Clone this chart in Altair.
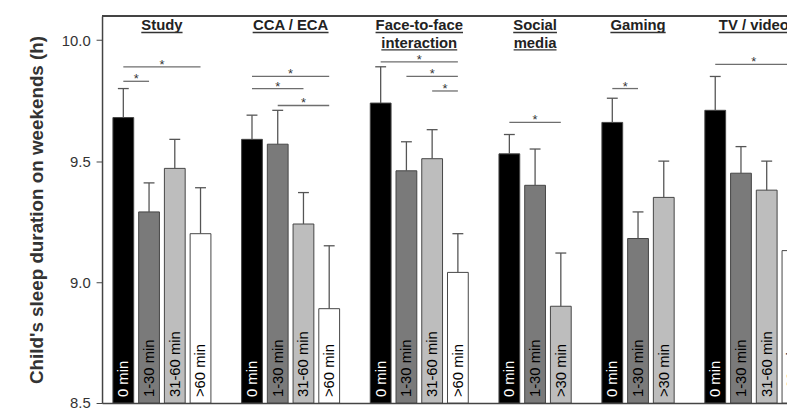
import altair as alt
import pandas as pd

# ---------------- data ----------------
title_lines = [["Study"], ["CCA / ECA"], ["Face-to-face", "interaction"],
               ["Social", "media"], ["Gaming"], ["TV / video"]]
levels = [
    ["0 min", "1-30 min", "31-60 min", ">60 min"],
    ["0 min", "1-30 min", "31-60 min", ">60 min"],
    ["0 min", "1-30 min", "31-60 min", ">60 min"],
    ["0 min", "1-30 min", ">30 min"],
    ["0 min", "1-30 min", ">30 min"],
    ["0 min", "1-30 min", "31-60 min", ">60 min"],
]
means = [
    [9.68, 9.29, 9.47, 9.20],
    [9.59, 9.57, 9.24, 8.89],
    [9.74, 9.46, 9.51, 9.04],
    [9.53, 9.40, 8.90],
    [9.66, 9.18, 9.35],
    [9.71, 9.45, 9.38, 9.13],
]
upper = [
    [9.80, 9.41, 9.59, 9.39],
    [9.69, 9.71, 9.37, 9.15],
    [9.89, 9.58, 9.63, 9.20],
    [9.61, 9.55, 9.12],
    [9.76, 9.29, 9.50],
    [9.85, 9.56, 9.50, 9.30],
]
# significance brackets: (from bar, to bar) within a group and bracket height (h)
sig_pairs = [
    [(0, 1), (0, 3)],
    [(0, 3), (0, 2), (1, 3)],
    [(0, 3), (1, 3), (2, 3)],
    [(0, 2)],
    [(0, 1)],
    [(0, 3)],
]
sig_heights = [
    [9.83, 9.89],
    [9.85, 9.80, 9.73],
    [9.91, 9.85, 9.79],
    [9.66],
    [9.80],
    [9.90],
]

# ---------------- layout / style ----------------
W, H = 692, 391
Y_DOM = [8.5, 10.1]
PX_PER_SLOT = 26.0
X_DOM = [-11 / PX_PER_SLOT, (W - 11) / PX_PER_SLOT]
BAR_W = 21 / PX_PER_SLOT
CAP = 5.5 / PX_PER_SLOT
PX_PER_H = H / (Y_DOM[1] - Y_DOM[0])
FONT = "Liberation Sans"

bold_w = {" ": 278, "/": 278, "-": 333, "a": 556, "c": 556, "d": 611, "e": 556,
          "f": 333, "g": 611, "i": 278, "l": 278, "m": 889, "n": 611, "o": 611,
          "r": 389, "s": 556, "t": 333, "u": 611, "v": 556, "y": 556, "A": 722,
          "C": 722, "E": 667, "F": 611, "G": 778, "S": 667, "T": 611, "V": 667}


def text_px(s, size=15):
    return sum(bold_w.get(ch, 556) for ch in s) / 1000 * size


fills = {"0 min": "#000000", "1-30 min": "#7a7a7a", "31-60 min": "#bdbdbd",
         ">60 min": "#ffffff", ">30 min": "#bdbdbd"}

bar_rows, sig_rows, title_rows = [], [], []
start = 0
for g, lv in enumerate(levels):
    for i, name in enumerate(lv):
        bar_rows.append({"group": g, "level": name, "slot": start + i,
                         "mean": means[g][i], "upper": upper[g][i]})
    for (a, b), h in zip(sig_pairs[g], sig_heights[g]):
        sig_rows.append({"a": start + a, "b": start + b, "h": h})
    gc = (start + start + len(lv) - 1 + BAR_W) / 2
    for k, line in enumerate(title_lines[g]):
        title_rows.append({"line": line, "gc": gc, "k": k,
                           "half": text_px(line) / 2 / PX_PER_SLOT})
    start += len(lv) + 1

bars = pd.DataFrame(bar_rows)
sigs = pd.DataFrame(sig_rows)
titles = pd.DataFrame(title_rows)

xs = alt.Scale(domain=X_DOM, nice=False, zero=False)
ys = alt.Scale(domain=Y_DOM, nice=False, zero=False)

base_bars = alt.Chart(bars).transform_calculate(
    x0="datum.slot", x1=f"datum.slot + {BAR_W}", xc=f"datum.slot + {BAR_W / 2}",
    c0=f"datum.slot + {BAR_W / 2 - CAP}", c1=f"datum.slot + {BAR_W / 2 + CAP}",
    tc="datum.level == '0 min' ? 'white' : 'black'")

bar_layer = base_bars.mark_bar(stroke="#454545", strokeWidth=1, clip=True).encode(
    x=alt.X("x0:Q", scale=xs,
            axis=alt.Axis(labels=False, ticks=False, title=None, grid=False,
                          domainColor="#444", domainWidth=1.5)),
    x2="x1:Q",
    y=alt.Y("mean:Q", scale=ys,
            axis=alt.Axis(values=[8.5, 9.0, 9.5, 10.0], format=".1f", grid=False,
                          labelFontSize=15, labelColor="#333", labelPadding=6,
                          tickSize=6, tickColor="#444", domainColor="#444",
                          domainWidth=1.5,
                          title="Child's sleep duration on weekends (h)",
                          titleFontSize=19, titleFontWeight="bold",
                          titleColor="#333", titlePadding=15)),
    y2=alt.datum(8.5),
    color=alt.Color("level:N", scale=alt.Scale(domain=list(fills.keys()),
                                               range=list(fills.values())),
                    legend=None),
)

err = base_bars.mark_rule(stroke="#555555", strokeWidth=1.3, clip=True).encode(
    x="xc:Q", y="mean:Q", y2="upper:Q")
cap = base_bars.mark_rule(stroke="#555555", strokeWidth=1.3, clip=True).encode(
    x="c0:Q", x2="c1:Q", y="upper:Q")

labels = base_bars.mark_text(angle=270, align="left", baseline="middle", dx=6,
                             fontSize=15, font=FONT, clip=True).encode(
    x="xc:Q", y=alt.datum(8.5), text="level:N",
    color=alt.Color("tc:N", scale=None))

base_sig = alt.Chart(sigs).transform_calculate(
    xa=f"datum.a + {BAR_W / 2}", xb=f"datum.b + {BAR_W / 2}",
    xm=f"(datum.a + datum.b) / 2 + {BAR_W / 2}")
sig_lines = base_sig.mark_rule(stroke="#6e6e6e", strokeWidth=1.3, clip=True).encode(
    x="xa:Q", x2="xb:Q", y="h:Q")
stars = base_sig.mark_text(text="*", fontSize=13, font=FONT, baseline="alphabetic",
                           dy=2, fill="#333333", clip=True).encode(x="xm:Q", y="h:Q")

b1 = Y_DOM[0] + (405 - 28.5) / PX_PER_H
lh = 17.5 / PX_PER_H
ul = 2.2 / PX_PER_H
base_t = alt.Chart(titles).transform_calculate(
    ty=f"{b1} - datum.k * {lh}", uy=f"{b1} - datum.k * {lh} - {ul}",
    u0="datum.gc - datum.half", u1="datum.gc + datum.half")
title_text = base_t.mark_text(fontSize=15, fontWeight="bold", font=FONT,
                              baseline="alphabetic", fill="#222222", clip=True).encode(
    x="gc:Q", y="ty:Q", text="line:N")
underline = base_t.mark_rule(stroke="#333333", strokeWidth=1.3, clip=True).encode(
    x="u0:Q", x2="u1:Q", y="uy:Q")

top_frame = alt.Chart(bars).mark_rule(stroke="#444444", strokeWidth=1.5).encode(
    x=alt.value(0), x2=alt.value(W), y=alt.value(0))

chart = alt.layer(bar_layer, err, cap, labels, sig_lines, stars, title_text,
                  underline, top_frame).properties(
    width=W, height=H,
    autosize=alt.AutoSizeParams(type="none"),
    padding={"left": 95, "top": 6, "right": 0, "bottom": 6},
    background="white",
).configure_view(stroke=None).configure(font=FONT)

chart.save("out.html", embed_options={"renderer": "svg", "actions": False})
